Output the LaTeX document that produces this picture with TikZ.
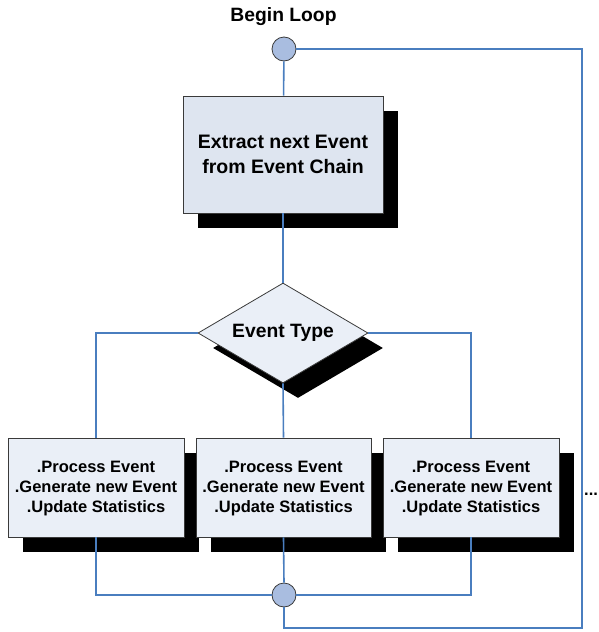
\documentclass[tikz,border=0pt]{standalone}
\usepackage{fontspec}
\setmainfont{Liberation Sans}
\usetikzlibrary{shapes.geometric,shadows}
\definecolor{linkblue}{HTML}{4A7EBF}
\definecolor{boxfill}{HTML}{EAEFF7}
\definecolor{topfill}{HTML}{DEE5F0}
\definecolor{circfill}{HTML}{A9BDE0}
\definecolor{edge}{HTML}{3A3A3A}
\tikzset{
  x=1pt, y=1pt,
  shad/.style={drop shadow={opacity=1, fill=black, shadow xshift=15pt, shadow yshift=-15pt}},
  bigbox/.style={draw=edge, line width=0.8pt, fill=topfill, shad, minimum width=200pt, minimum height=117pt, align=center, inner sep=0pt, font=\fontsize{19.5}{25}\selectfont\bfseries},
  smallbox/.style={draw=edge, line width=0.8pt, fill=boxfill, shad, minimum height=99pt, align=center, inner sep=0pt, font=\fontsize{16.5}{20}\selectfont\bfseries},
  decision/.style={diamond, aspect=1.7, draw=edge, line width=0.8pt, fill=boxfill, shad, minimum width=170pt, minimum height=100pt, inner sep=0pt, font=\fontsize{19.3}{23}\selectfont\bfseries},
  junction/.style={circle, draw=edge, line width=0.8pt, fill=circfill, minimum size=24pt, inner sep=0pt},
  link/.style={draw=linkblue, line width=1.6pt},
  label/.style={font=\fontsize{19.3}{23}\selectfont\bfseries, inner sep=0pt}
}
\begin{document}
\begin{tikzpicture}
\useasboundingbox (0,0) rectangle (599,-632);
\node[label] (begin) at (283.5,-17) {Begin Loop};
\node[junction] (c1) at (284,-49) {};
\node[bigbox] (top) at (283,-154.5) {Extract next Event\\from Event Chain};
\node[decision] (dec) at (283,-333) {\raisebox{-2pt}{Event Type}};
\node[smallbox, minimum width=176pt] (b1) at (96,-487.5) {\strut.Process Event\\.Generate new Event\\.Update Statistics};
\node[smallbox, minimum width=175pt] (b2) at (283.5,-487.5) {\strut.Process Event\\.Generate new Event\\.Update Statistics};
\node[smallbox, minimum width=176pt] (b3) at (471,-487.5) {\strut.Process Event\\.Generate new Event\\.Update Statistics};
\node[junction] (c2) at (284,-595) {};
\node[font=\fontsize{16.5}{20}\selectfont\bfseries, inner sep=0pt, anchor=west] (dots) at (584,-494) {...};
\coordinate (br) at (582,-628);
\draw[link] (c1) -- (top);
\draw[link] (top) -- (dec.north);
\draw[link] (dec.west) -| (b1.north);
\draw[link] (dec.east) -| (b3.north);
\draw[link] (dec.south) -- (b2.north);
\draw[link] (b1.south) |- (c2.west);
\draw[link] (b3.south) |- (c2.east);
\draw[link] (b2.south) -- (c2.north);
\draw[link] (c2.south) |- (br) |- (c1.east);
\end{tikzpicture}
\end{document}
